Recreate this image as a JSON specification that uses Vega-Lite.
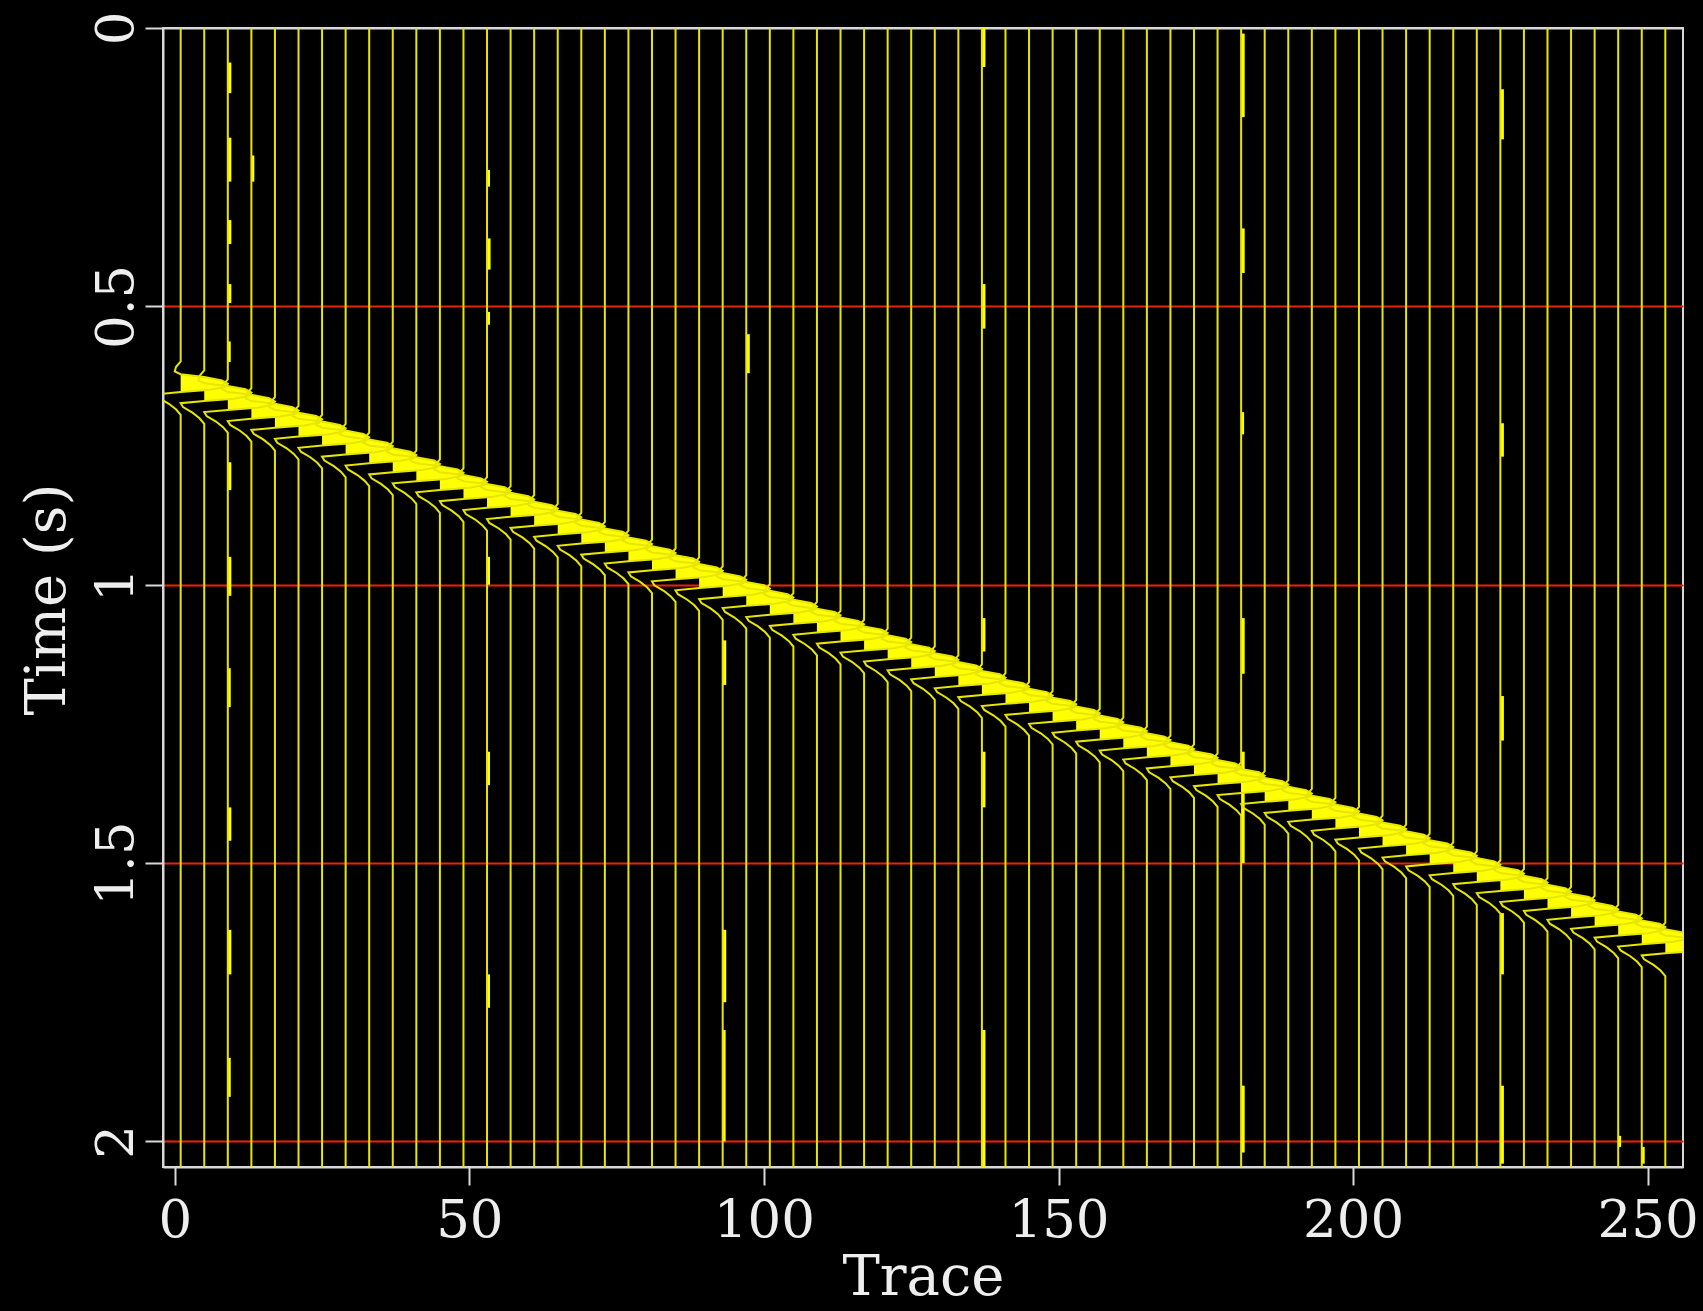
{
"$schema": "https://vega.github.io/schema/vega-lite/v6.json",
"width": 1520, "height": 1139,
"autosize": {"type": "none"},
"padding": {"left": 163, "top": 28, "right": 20, "bottom": 144},
"background": "#000000",
"config": {
"view": {"stroke": "#d8d8d8", "strokeWidth": 2, "fill": "#000000"},
"axis": {"domain": true, "domainColor": "#d8d8d8", "domainWidth": 2, "tickSize": 18, "tickWidth": 2, "tickColor": "#d8d8d8",
"labelFont": "DejaVu Serif", "labelFontSize": 53, "labelColor": "#eeeeee", "labelFlush": false, "labelOverlap": false, "labelBound": false,
"titleFont": "DejaVu Serif", "titleFontSize": 56, "titleFontWeight": "normal", "titleColor": "#eeeeee", "zindex": 1},
"axisX": {"grid": false, "labelAngle": 0, "labelAlign": "center", "labelBaseline": "alphabetic", "labelPadding": 51, "titleAlign": "center", "titleBaseline": "alphabetic", "titleY": 127},
"axisY": {"grid": true, "gridColor": "#ee2200", "gridWidth": 2, "labelAngle": -90, "labelAlign": "center", "labelBaseline": "alphabetic", "labelPadding": 13, "titleAngle": -90, "titleAlign": "center", "titleBaseline": "alphabetic", "titleX": -99, "titleY": 571}
},
"datasets": {
"traces": [
{"k":1,"t":[0,0.599,0.609,0.617,0.622,0.627,0.633,0.639,0.645,0.650,0.654,0.658,0.665,0.675,0.685,0.695,2.046],"a":[0,0,-0.8,-1.0,0,4,7,8,7.5,5,0,-4,-3.6,-2,-0.8,0,0]},
{"k":5,"t":[0,0.615,0.625,0.633,0.638,0.643,0.649,0.655,0.661,0.666,0.670,0.674,0.681,0.691,0.701,0.711,2.046],"a":[0,0,-0.8,-1.0,0,4,7,8,7.5,5,0,-4,-3.6,-2,-0.8,0,0]},
{"k":9,"t":[0,0.631,0.641,0.649,0.654,0.659,0.665,0.671,0.677,0.682,0.686,0.690,0.697,0.707,0.717,0.727,2.046],"a":[0,0,-0.8,-1.0,0,4,7,8,7.5,5,0,-4,-3.6,-2,-0.8,0,0]},
{"k":13,"t":[0,0.647,0.657,0.665,0.670,0.675,0.681,0.687,0.693,0.698,0.702,0.706,0.713,0.723,0.733,0.743,2.046],"a":[0,0,-0.8,-1.0,0,4,7,8,7.5,5,0,-4,-3.6,-2,-0.8,0,0]},
{"k":17,"t":[0,0.663,0.673,0.681,0.686,0.691,0.697,0.703,0.709,0.714,0.718,0.722,0.729,0.739,0.749,0.759,2.046],"a":[0,0,-0.8,-1.0,0,4,7,8,7.5,5,0,-4,-3.6,-2,-0.8,0,0]},
{"k":21,"t":[0,0.679,0.689,0.697,0.702,0.707,0.713,0.719,0.725,0.730,0.734,0.738,0.745,0.755,0.765,0.775,2.046],"a":[0,0,-0.8,-1.0,0,4,7,8,7.5,5,0,-4,-3.6,-2,-0.8,0,0]},
{"k":25,"t":[0,0.695,0.705,0.713,0.718,0.723,0.729,0.735,0.741,0.746,0.750,0.754,0.761,0.771,0.781,0.791,2.046],"a":[0,0,-0.8,-1.0,0,4,7,8,7.5,5,0,-4,-3.6,-2,-0.8,0,0]},
{"k":29,"t":[0,0.711,0.721,0.729,0.734,0.739,0.745,0.751,0.757,0.762,0.766,0.770,0.777,0.787,0.797,0.807,2.046],"a":[0,0,-0.8,-1.0,0,4,7,8,7.5,5,0,-4,-3.6,-2,-0.8,0,0]},
{"k":33,"t":[0,0.727,0.737,0.745,0.750,0.755,0.761,0.767,0.773,0.778,0.782,0.786,0.793,0.803,0.813,0.823,2.046],"a":[0,0,-0.8,-1.0,0,4,7,8,7.5,5,0,-4,-3.6,-2,-0.8,0,0]},
{"k":37,"t":[0,0.743,0.753,0.761,0.766,0.771,0.777,0.783,0.789,0.794,0.798,0.802,0.809,0.819,0.829,0.839,2.046],"a":[0,0,-0.8,-1.0,0,4,7,8,7.5,5,0,-4,-3.6,-2,-0.8,0,0]},
{"k":41,"t":[0,0.759,0.769,0.777,0.782,0.787,0.793,0.799,0.805,0.810,0.814,0.818,0.825,0.835,0.845,0.855,2.046],"a":[0,0,-0.8,-1.0,0,4,7,8,7.5,5,0,-4,-3.6,-2,-0.8,0,0]},
{"k":45,"t":[0,0.775,0.785,0.793,0.798,0.803,0.809,0.815,0.821,0.826,0.830,0.834,0.841,0.851,0.861,0.871,2.046],"a":[0,0,-0.8,-1.0,0,4,7,8,7.5,5,0,-4,-3.6,-2,-0.8,0,0]},
{"k":49,"t":[0,0.791,0.801,0.809,0.814,0.819,0.825,0.831,0.837,0.842,0.846,0.850,0.857,0.867,0.877,0.887,2.046],"a":[0,0,-0.8,-1.0,0,4,7,8,7.5,5,0,-4,-3.6,-2,-0.8,0,0]},
{"k":53,"t":[0,0.807,0.817,0.825,0.830,0.835,0.841,0.847,0.853,0.858,0.862,0.866,0.873,0.883,0.893,0.903,2.046],"a":[0,0,-0.8,-1.0,0,4,7,8,7.5,5,0,-4,-3.6,-2,-0.8,0,0]},
{"k":57,"t":[0,0.823,0.833,0.841,0.846,0.851,0.857,0.863,0.869,0.874,0.878,0.882,0.889,0.899,0.909,0.919,2.046],"a":[0,0,-0.8,-1.0,0,4,7,8,7.5,5,0,-4,-3.6,-2,-0.8,0,0]},
{"k":61,"t":[0,0.839,0.849,0.857,0.862,0.867,0.873,0.879,0.885,0.890,0.894,0.898,0.905,0.915,0.925,0.935,2.046],"a":[0,0,-0.8,-1.0,0,4,7,8,7.5,5,0,-4,-3.6,-2,-0.8,0,0]},
{"k":65,"t":[0,0.855,0.865,0.873,0.878,0.883,0.889,0.895,0.901,0.906,0.910,0.914,0.921,0.931,0.941,0.951,2.046],"a":[0,0,-0.8,-1.0,0,4,7,8,7.5,5,0,-4,-3.6,-2,-0.8,0,0]},
{"k":69,"t":[0,0.871,0.881,0.889,0.894,0.899,0.905,0.911,0.917,0.922,0.926,0.930,0.937,0.947,0.957,0.967,2.046],"a":[0,0,-0.8,-1.0,0,4,7,8,7.5,5,0,-4,-3.6,-2,-0.8,0,0]},
{"k":73,"t":[0,0.887,0.897,0.905,0.910,0.915,0.921,0.927,0.933,0.938,0.942,0.946,0.953,0.963,0.973,0.983,2.046],"a":[0,0,-0.8,-1.0,0,4,7,8,7.5,5,0,-4,-3.6,-2,-0.8,0,0]},
{"k":77,"t":[0,0.903,0.913,0.921,0.926,0.931,0.937,0.943,0.949,0.954,0.958,0.962,0.969,0.979,0.989,0.999,2.046],"a":[0,0,-0.8,-1.0,0,4,7,8,7.5,5,0,-4,-3.6,-2,-0.8,0,0]},
{"k":81,"t":[0,0.919,0.929,0.937,0.942,0.947,0.953,0.959,0.965,0.970,0.974,0.978,0.985,0.995,1.005,1.015,2.046],"a":[0,0,-0.8,-1.0,0,4,7,8,7.5,5,0,-4,-3.6,-2,-0.8,0,0]},
{"k":85,"t":[0,0.935,0.945,0.953,0.958,0.963,0.969,0.975,0.981,0.986,0.990,0.994,1.001,1.011,1.021,1.031,2.046],"a":[0,0,-0.8,-1.0,0,4,7,8,7.5,5,0,-4,-3.6,-2,-0.8,0,0]},
{"k":89,"t":[0,0.951,0.961,0.969,0.974,0.979,0.985,0.991,0.997,1.002,1.006,1.010,1.017,1.027,1.037,1.047,2.046],"a":[0,0,-0.8,-1.0,0,4,7,8,7.5,5,0,-4,-3.6,-2,-0.8,0,0]},
{"k":93,"t":[0,0.967,0.977,0.985,0.990,0.995,1.001,1.007,1.013,1.018,1.022,1.026,1.033,1.043,1.053,1.063,2.046],"a":[0,0,-0.8,-1.0,0,4,7,8,7.5,5,0,-4,-3.6,-2,-0.8,0,0]},
{"k":97,"t":[0,0.983,0.993,1.001,1.006,1.011,1.017,1.023,1.029,1.034,1.038,1.042,1.049,1.059,1.069,1.079,2.046],"a":[0,0,-0.8,-1.0,0,4,7,8,7.5,5,0,-4,-3.6,-2,-0.8,0,0]},
{"k":101,"t":[0,0.999,1.009,1.017,1.022,1.027,1.033,1.039,1.045,1.050,1.054,1.058,1.065,1.075,1.085,1.095,2.046],"a":[0,0,-0.8,-1.0,0,4,7,8,7.5,5,0,-4,-3.6,-2,-0.8,0,0]},
{"k":105,"t":[0,1.015,1.025,1.033,1.038,1.043,1.049,1.055,1.061,1.066,1.070,1.074,1.081,1.091,1.101,1.111,2.046],"a":[0,0,-0.8,-1.0,0,4,7,8,7.5,5,0,-4,-3.6,-2,-0.8,0,0]},
{"k":109,"t":[0,1.031,1.041,1.049,1.054,1.059,1.065,1.071,1.077,1.082,1.086,1.090,1.097,1.107,1.117,1.127,2.046],"a":[0,0,-0.8,-1.0,0,4,7,8,7.5,5,0,-4,-3.6,-2,-0.8,0,0]},
{"k":113,"t":[0,1.047,1.057,1.065,1.070,1.075,1.081,1.087,1.093,1.098,1.102,1.106,1.113,1.123,1.133,1.143,2.046],"a":[0,0,-0.8,-1.0,0,4,7,8,7.5,5,0,-4,-3.6,-2,-0.8,0,0]},
{"k":117,"t":[0,1.063,1.073,1.081,1.086,1.091,1.097,1.103,1.109,1.114,1.118,1.122,1.129,1.139,1.149,1.159,2.046],"a":[0,0,-0.8,-1.0,0,4,7,8,7.5,5,0,-4,-3.6,-2,-0.8,0,0]},
{"k":121,"t":[0,1.079,1.089,1.097,1.102,1.107,1.113,1.119,1.125,1.130,1.134,1.138,1.145,1.155,1.165,1.175,2.046],"a":[0,0,-0.8,-1.0,0,4,7,8,7.5,5,0,-4,-3.6,-2,-0.8,0,0]},
{"k":125,"t":[0,1.095,1.105,1.113,1.118,1.123,1.129,1.135,1.141,1.146,1.150,1.154,1.161,1.171,1.181,1.191,2.046],"a":[0,0,-0.8,-1.0,0,4,7,8,7.5,5,0,-4,-3.6,-2,-0.8,0,0]},
{"k":129,"t":[0,1.111,1.121,1.129,1.134,1.139,1.145,1.151,1.157,1.162,1.166,1.170,1.177,1.187,1.197,1.207,2.046],"a":[0,0,-0.8,-1.0,0,4,7,8,7.5,5,0,-4,-3.6,-2,-0.8,0,0]},
{"k":133,"t":[0,1.127,1.137,1.145,1.150,1.155,1.161,1.167,1.173,1.178,1.182,1.186,1.193,1.203,1.213,1.223,2.046],"a":[0,0,-0.8,-1.0,0,4,7,8,7.5,5,0,-4,-3.6,-2,-0.8,0,0]},
{"k":137,"t":[0,1.143,1.153,1.161,1.166,1.171,1.177,1.183,1.189,1.194,1.198,1.202,1.209,1.219,1.229,1.239,2.046],"a":[0,0,-0.8,-1.0,0,4,7,8,7.5,5,0,-4,-3.6,-2,-0.8,0,0]},
{"k":141,"t":[0,1.159,1.169,1.177,1.182,1.187,1.193,1.199,1.205,1.210,1.214,1.218,1.225,1.235,1.245,1.255,2.046],"a":[0,0,-0.8,-1.0,0,4,7,8,7.5,5,0,-4,-3.6,-2,-0.8,0,0]},
{"k":145,"t":[0,1.175,1.185,1.193,1.198,1.203,1.209,1.215,1.221,1.226,1.230,1.234,1.241,1.251,1.261,1.271,2.046],"a":[0,0,-0.8,-1.0,0,4,7,8,7.5,5,0,-4,-3.6,-2,-0.8,0,0]},
{"k":149,"t":[0,1.191,1.201,1.209,1.214,1.219,1.225,1.231,1.237,1.242,1.246,1.250,1.257,1.267,1.277,1.287,2.046],"a":[0,0,-0.8,-1.0,0,4,7,8,7.5,5,0,-4,-3.6,-2,-0.8,0,0]},
{"k":153,"t":[0,1.207,1.217,1.225,1.230,1.235,1.241,1.247,1.253,1.258,1.262,1.266,1.273,1.283,1.293,1.303,2.046],"a":[0,0,-0.8,-1.0,0,4,7,8,7.5,5,0,-4,-3.6,-2,-0.8,0,0]},
{"k":157,"t":[0,1.223,1.233,1.241,1.246,1.251,1.257,1.263,1.269,1.274,1.278,1.282,1.289,1.299,1.309,1.319,2.046],"a":[0,0,-0.8,-1.0,0,4,7,8,7.5,5,0,-4,-3.6,-2,-0.8,0,0]},
{"k":161,"t":[0,1.239,1.249,1.257,1.262,1.267,1.273,1.279,1.285,1.290,1.294,1.298,1.305,1.315,1.325,1.335,2.046],"a":[0,0,-0.8,-1.0,0,4,7,8,7.5,5,0,-4,-3.6,-2,-0.8,0,0]},
{"k":165,"t":[0,1.255,1.265,1.273,1.278,1.283,1.289,1.295,1.301,1.306,1.310,1.314,1.321,1.331,1.341,1.351,2.046],"a":[0,0,-0.8,-1.0,0,4,7,8,7.5,5,0,-4,-3.6,-2,-0.8,0,0]},
{"k":169,"t":[0,1.271,1.281,1.289,1.294,1.299,1.305,1.311,1.317,1.322,1.326,1.330,1.337,1.347,1.357,1.367,2.046],"a":[0,0,-0.8,-1.0,0,4,7,8,7.5,5,0,-4,-3.6,-2,-0.8,0,0]},
{"k":173,"t":[0,1.287,1.297,1.305,1.310,1.315,1.321,1.327,1.333,1.338,1.342,1.346,1.353,1.363,1.373,1.383,2.046],"a":[0,0,-0.8,-1.0,0,4,7,8,7.5,5,0,-4,-3.6,-2,-0.8,0,0]},
{"k":177,"t":[0,1.303,1.313,1.321,1.326,1.331,1.337,1.343,1.349,1.354,1.358,1.362,1.369,1.379,1.389,1.399,2.046],"a":[0,0,-0.8,-1.0,0,4,7,8,7.5,5,0,-4,-3.6,-2,-0.8,0,0]},
{"k":181,"t":[0,1.319,1.329,1.337,1.342,1.347,1.353,1.359,1.365,1.370,1.374,1.378,1.385,1.395,1.405,1.415,2.046],"a":[0,0,-0.8,-1.0,0,4,7,8,7.5,5,0,-4,-3.6,-2,-0.8,0,0]},
{"k":185,"t":[0,1.335,1.345,1.353,1.358,1.363,1.369,1.375,1.381,1.386,1.390,1.394,1.401,1.411,1.421,1.431,2.046],"a":[0,0,-0.8,-1.0,0,4,7,8,7.5,5,0,-4,-3.6,-2,-0.8,0,0]},
{"k":189,"t":[0,1.351,1.361,1.369,1.374,1.379,1.385,1.391,1.397,1.402,1.406,1.410,1.417,1.427,1.437,1.447,2.046],"a":[0,0,-0.8,-1.0,0,4,7,8,7.5,5,0,-4,-3.6,-2,-0.8,0,0]},
{"k":193,"t":[0,1.367,1.377,1.385,1.390,1.395,1.401,1.407,1.413,1.418,1.422,1.426,1.433,1.443,1.453,1.463,2.046],"a":[0,0,-0.8,-1.0,0,4,7,8,7.5,5,0,-4,-3.6,-2,-0.8,0,0]},
{"k":197,"t":[0,1.383,1.393,1.401,1.406,1.411,1.417,1.423,1.429,1.434,1.438,1.442,1.449,1.459,1.469,1.479,2.046],"a":[0,0,-0.8,-1.0,0,4,7,8,7.5,5,0,-4,-3.6,-2,-0.8,0,0]},
{"k":201,"t":[0,1.399,1.409,1.417,1.422,1.427,1.433,1.439,1.445,1.450,1.454,1.458,1.465,1.475,1.485,1.495,2.046],"a":[0,0,-0.8,-1.0,0,4,7,8,7.5,5,0,-4,-3.6,-2,-0.8,0,0]},
{"k":205,"t":[0,1.415,1.425,1.433,1.438,1.443,1.449,1.455,1.461,1.466,1.470,1.474,1.481,1.491,1.501,1.511,2.046],"a":[0,0,-0.8,-1.0,0,4,7,8,7.5,5,0,-4,-3.6,-2,-0.8,0,0]},
{"k":209,"t":[0,1.431,1.441,1.449,1.454,1.459,1.465,1.471,1.477,1.482,1.486,1.490,1.497,1.507,1.517,1.527,2.046],"a":[0,0,-0.8,-1.0,0,4,7,8,7.5,5,0,-4,-3.6,-2,-0.8,0,0]},
{"k":213,"t":[0,1.447,1.457,1.465,1.470,1.475,1.481,1.487,1.493,1.498,1.502,1.506,1.513,1.523,1.533,1.543,2.046],"a":[0,0,-0.8,-1.0,0,4,7,8,7.5,5,0,-4,-3.6,-2,-0.8,0,0]},
{"k":217,"t":[0,1.463,1.473,1.481,1.486,1.491,1.497,1.503,1.509,1.514,1.518,1.522,1.529,1.539,1.549,1.559,2.046],"a":[0,0,-0.8,-1.0,0,4,7,8,7.5,5,0,-4,-3.6,-2,-0.8,0,0]},
{"k":221,"t":[0,1.479,1.489,1.497,1.502,1.507,1.513,1.519,1.525,1.530,1.534,1.538,1.545,1.555,1.565,1.575,2.046],"a":[0,0,-0.8,-1.0,0,4,7,8,7.5,5,0,-4,-3.6,-2,-0.8,0,0]},
{"k":225,"t":[0,1.495,1.505,1.513,1.518,1.523,1.529,1.535,1.541,1.546,1.550,1.554,1.561,1.571,1.581,1.591,2.046],"a":[0,0,-0.8,-1.0,0,4,7,8,7.5,5,0,-4,-3.6,-2,-0.8,0,0]},
{"k":229,"t":[0,1.511,1.521,1.529,1.534,1.539,1.545,1.551,1.557,1.562,1.566,1.570,1.577,1.587,1.597,1.607,2.046],"a":[0,0,-0.8,-1.0,0,4,7,8,7.5,5,0,-4,-3.6,-2,-0.8,0,0]},
{"k":233,"t":[0,1.527,1.537,1.545,1.550,1.555,1.561,1.567,1.573,1.578,1.582,1.586,1.593,1.603,1.613,1.623,2.046],"a":[0,0,-0.8,-1.0,0,4,7,8,7.5,5,0,-4,-3.6,-2,-0.8,0,0]},
{"k":237,"t":[0,1.543,1.553,1.561,1.566,1.571,1.577,1.583,1.589,1.594,1.598,1.602,1.609,1.619,1.629,1.639,2.046],"a":[0,0,-0.8,-1.0,0,4,7,8,7.5,5,0,-4,-3.6,-2,-0.8,0,0]},
{"k":241,"t":[0,1.559,1.569,1.577,1.582,1.587,1.593,1.599,1.605,1.610,1.614,1.618,1.625,1.635,1.645,1.655,2.046],"a":[0,0,-0.8,-1.0,0,4,7,8,7.5,5,0,-4,-3.6,-2,-0.8,0,0]},
{"k":245,"t":[0,1.575,1.585,1.593,1.598,1.603,1.609,1.615,1.621,1.626,1.630,1.634,1.641,1.651,1.661,1.671,2.046],"a":[0,0,-0.8,-1.0,0,4,7,8,7.5,5,0,-4,-3.6,-2,-0.8,0,0]},
{"k":249,"t":[0,1.591,1.601,1.609,1.614,1.619,1.625,1.631,1.637,1.642,1.646,1.650,1.657,1.667,1.677,1.687,2.046],"a":[0,0,-0.8,-1.0,0,4,7,8,7.5,5,0,-4,-3.6,-2,-0.8,0,0]},
{"k":253,"t":[0,1.607,1.617,1.625,1.630,1.635,1.641,1.647,1.653,1.658,1.662,1.666,1.673,1.683,1.693,1.703,2.046],"a":[0,0,-0.8,-1.0,0,4,7,8,7.5,5,0,-4,-3.6,-2,-0.8,0,0]}
],
"noise": [
{"k":9,"t1":0.062,"t2":0.117,"a":0.6},{"k":9,"t1":0.197,"t2":0.276,"a":0.6},{"k":9,"t1":0.345,"t2":0.388,"a":0.6},{"k":9,"t1":0.46,"t2":0.494,"a":0.6},{"k":9,"t1":0.563,"t2":0.6,"a":0.5},{"k":9,"t1":0.78,"t2":0.83,"a":0.6},{"k":9,"t1":0.95,"t2":1.02,"a":0.6},{"k":9,"t1":1.15,"t2":1.22,"a":0.5},{"k":9,"t1":1.4,"t2":1.46,"a":0.6},{"k":9,"t1":1.62,"t2":1.7,"a":0.6},{"k":9,"t1":1.85,"t2":1.92,"a":0.5},
{"k":13,"t1":0.229,"t2":0.276,"a":0.5},
{"k":53,"t1":0.255,"t2":0.285,"a":0.5},{"k":53,"t1":0.378,"t2":0.434,"a":0.6},{"k":53,"t1":0.51,"t2":0.533,"a":0.5},{"k":53,"t1":0.95,"t2":1.0,"a":0.5},{"k":53,"t1":1.3,"t2":1.36,"a":0.5},{"k":53,"t1":1.7,"t2":1.76,"a":0.5},
{"k":97,"t1":0.55,"t2":0.62,"a":0.6},{"k":93,"t1":1.1,"t2":1.18,"a":0.6},{"k":93,"t1":1.62,"t2":1.75,"a":0.6},{"k":93,"t1":1.8,"t2":2.0,"a":0.5},
{"k":137,"t1":0.0,"t2":0.07,"a":0.6},{"k":137,"t1":0.46,"t2":0.54,"a":0.6},{"k":137,"t1":1.06,"t2":1.12,"a":0.6},{"k":137,"t1":1.3,"t2":1.4,"a":0.6},{"k":137,"t1":1.8,"t2":2.046,"a":0.6},
{"k":181,"t1":0.01,"t2":0.16,"a":0.6},{"k":181,"t1":0.36,"t2":0.44,"a":0.6},{"k":181,"t1":0.69,"t2":0.73,"a":0.5},{"k":181,"t1":1.06,"t2":1.16,"a":0.6},{"k":181,"t1":1.3,"t2":1.5,"a":0.6},{"k":181,"t1":1.9,"t2":2.02,"a":0.6},
{"k":225,"t1":0.11,"t2":0.2,"a":0.6},{"k":225,"t1":0.71,"t2":0.77,"a":0.6},{"k":225,"t1":1.2,"t2":1.28,"a":0.6},{"k":225,"t1":1.59,"t2":1.7,"a":0.6},{"k":225,"t1":1.9,"t2":2.04,"a":0.6},
{"k":245,"t1":1.99,"t2":2.01,"a":0.5},{"k":249,"t1":2.01,"t2":2.04,"a":0.5}
]
},
"layer": [
{
"data": {"name": "traces"},
"transform": [{"flatten": ["t", "a"]}, {"calculate": "datum.k + max(datum.a, 0)", "as": "xf"}],
"mark": {"type": "area", "orient": "horizontal", "color": "#ffff00", "clip": true, "interpolate": "linear"},
"encoding": {
"y": {"field": "t", "type": "quantitative", "title": "Time (s)", "scale": {"domain": [0, 2.046], "reverse": true, "nice": false, "zero": false},
"axis": {"values": [0, 0.5, 1, 1.5, 2], "format": "~g", "grid": true,
"gridColor": {"condition": {"test": "datum.value === 0", "value": "#d8d8d8"}, "value": "#ee2200"}}},
"x": {"field": "k", "type": "quantitative", "title": "Trace", "stack": null, "scale": {"domain": [-2, 256], "nice": false, "zero": false},
"axis": {"values": [0, 50, 100, 150, 200, 250], "grid": false}},
"x2": {"field": "xf"},
"detail": {"field": "k", "type": "nominal"}
}
},
{
"data": {"name": "noise"},
"transform": [{"calculate": "datum.k + datum.a", "as": "xe"}],
"mark": {"type": "rect", "color": "#ffff00", "clip": true},
"encoding": {
"y": {"field": "t1", "type": "quantitative", "title": "Time (s)"},
"y2": {"field": "t2"},
"x": {"field": "k", "type": "quantitative", "title": "Trace"},
"x2": {"field": "xe"}
}
},
{
"data": {"name": "traces"},
"transform": [{"flatten": ["t", "a"]}, {"calculate": "datum.k + datum.a", "as": "x"}],
"mark": {"type": "line", "color": "#e6e600", "strokeWidth": 2, "clip": true, "interpolate": "linear"},
"encoding": {
"y": {"field": "t", "type": "quantitative", "title": "Time (s)"},
"x": {"field": "x", "type": "quantitative", "title": "Trace"},
"detail": {"field": "k", "type": "nominal"},
"order": {"field": "t", "type": "quantitative"}
}
}
]
}
